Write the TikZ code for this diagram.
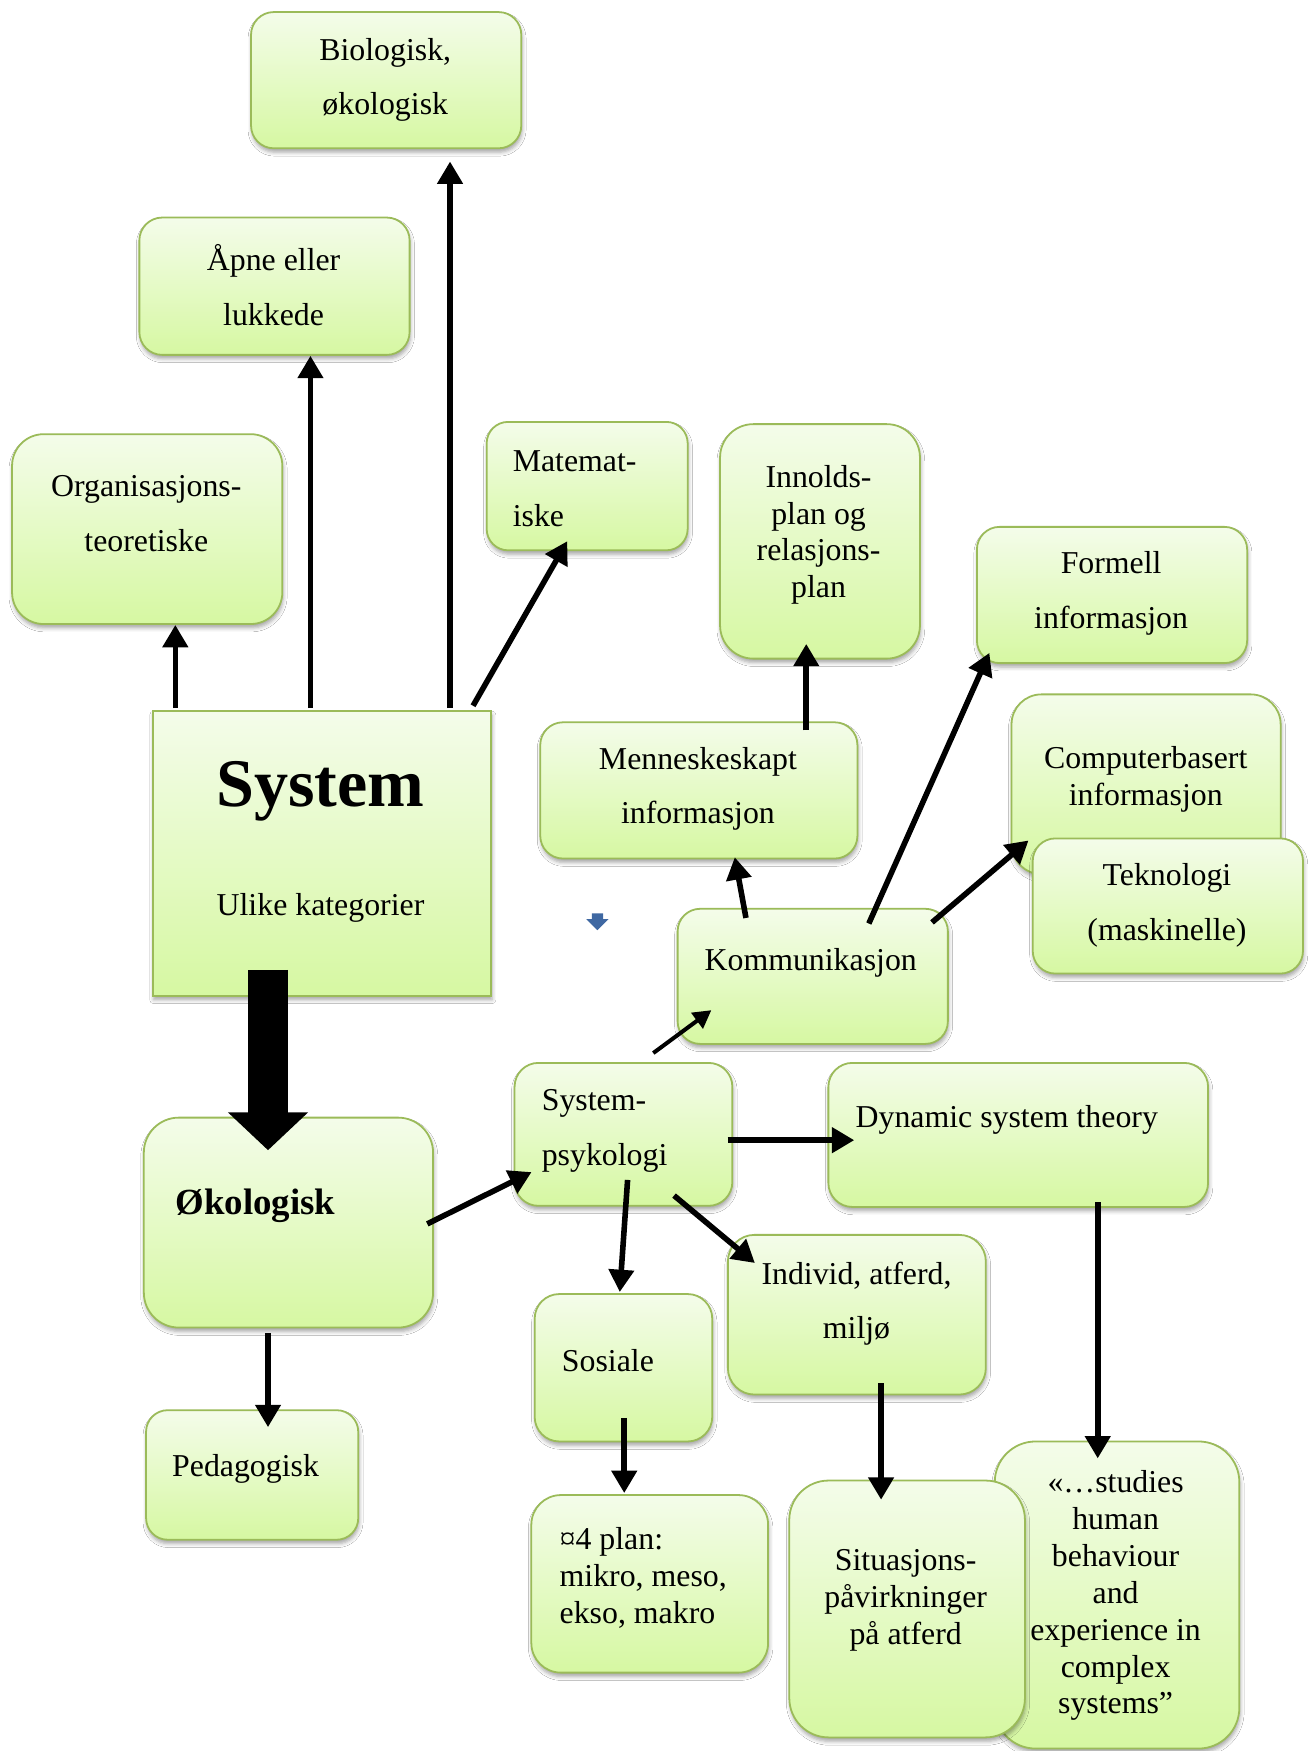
\documentclass[tikz,border=0pt]{standalone}
\usepackage{fontspec}
\setmainfont{Liberation Serif}
\usetikzlibrary{arrows.meta,shadows.blur}

\definecolor{boxtop}{RGB}{244,252,234}
\definecolor{boxbot}{RGB}{214,248,162}
\definecolor{boxline}{RGB}{155,187,89}
\definecolor{pinblue}{RGB}{63,104,162}

\tikzset{
  box/.style={draw=boxline, line width=1.6pt, top color=boxtop, bottom color=boxbot,
    inner sep=0pt,
    blur shadow={shadow xshift=0.8pt, shadow yshift=-3.5pt, shadow blur radius=3.5pt, shadow opacity=35}},
  txt/.style={inner sep=0pt, align=center, yshift=-3pt, font=\fontsize{28.5}{33}\selectfont},
  txtwide/.style={inner sep=0pt, align=center, yshift=-3pt, font=\fontsize{28.5}{49}\selectfont},
  arr/.style={line width=5pt, -{Triangle[length=20pt,width=22pt]}},
  thinarr/.style={line width=3.6pt, -{Triangle[length=16pt,width=17pt]}},
}

% rounded panel from its top-left and bottom-right corners
\newcommand\panel[5]{%
  \pgfmathsetmacro\pw{#4-#2}%
  \pgfmathsetmacro\ph{#5-#3}%
  \pgfmathsetmacro\pr{min(\pw,\ph)/6}%
  \node[box, rounded corners=\pr pt, minimum width=\pw pt, minimum height=\ph pt,
        anchor=north west] (#1) at (#2,#3) {};%
}

\begin{document}
\begin{tikzpicture}[x=1pt, y=-1pt]
\useasboundingbox (0,0) rectangle (1176,1568);
\fill[white] (0,0) rectangle (1176,1568);

% panels
\panel{bio}{224}{10}{466}{132}
\panel{apne}{124}{194}{366}{317}
\panel{org}{10}{388}{252}{558}
\panel{mat}{435}{377}{615}{492}
\panel{inn}{644}{379}{823}{589}
\panel{form}{874}{471}{1116}{593}
\node[box, minimum width=303pt, minimum height=255pt, anchor=north west] (sys) at (136,636) {};
\panel{men}{483}{646}{767}{768}
\panel{comp}{905}{621}{1146}{782}
\panel{tek}{924}{750}{1166}{871}
\panel{kom}{606}{813}{848}{934}
\panel{oko}{128}{1000}{387}{1188}
\panel{syp}{460}{951}{655}{1079}
\panel{dyn}{741}{951}{1081}{1080}
\panel{ind}{651}{1105}{882}{1248}
\panel{sos}{478}{1158}{637}{1290}
\panel{ped}{130}{1262}{320}{1378}
\panel{plan}{475}{1338}{687}{1497}
\panel{stud}{890}{1290}{1109}{1565}
\panel{sit}{706}{1325}{917}{1555}

% texts
\node[txtwide] (bioT) at (345,68.5) {Biologisk,\\økologisk};
\node[txtwide] (apneT) at (245,252.5) {Åpne eller\\lukkede};
\node[txtwide] (orgT) at (131,457) {Organisasjons-\\teoretiske};
\node[txtwide, align=left, anchor=west] (matT) at (459,434.5) {Matemat-\\iske};
\node[txt] (innT) at (733,476) {Innolds-\\plan og\\relasjons-\\plan};
\node[txtwide] (formT) at (995,528.5) {Formell\\informasjon};
\node[inner sep=0pt, font=\fontsize{61}{70}\selectfont\bfseries] (sysT) at (287,709) {System};
\node[txt] (sysU) at (287,810) {Ulike kategorier};
\node[txtwide] (menT) at (625,703.5) {Menneskeskapt\\informasjon};
\node[txt] (compT) at (1026,695) {Computerbasert\\informasjon};
\node[txtwide] (tekT) at (1045,807.5) {Teknologi\\(maskinelle)};
\node[txt] (komT) at (726,859) {Kommunikasjon};
\node[inner sep=0pt, anchor=west, font=\fontsize{33}{38}\selectfont\bfseries] (okoT) at (157,1080) {Økologisk};
\node[txtwide, align=left, anchor=west] (sypT) at (485,1009.5) {System-\\psykologi};
\node[txt, anchor=west] (dynT) at (766,1000) {Dynamic system theory};
\node[txtwide] (indT) at (767,1164.5) {Individ, atferd,\\miljø};
\node[txt, anchor=west] (sosT) at (503,1215) {Sosiale};
\node[txt, anchor=west] (pedT) at (154,1312) {Pedagogisk};
\node[txt, align=left, anchor=west] (planT) at (501,1410) {¤4 plan:\\mikro, meso,\\ekso, makro};
\node[txt] (sitT) at (811,1430) {Situasjons-\\påvirkninger\\på atferd};
\node[txt] (studT) at (999,1426) {«…studies\\human\\behaviour\\and\\experience in\\complex\\systems”};

% small anchor marker
\fill[pinblue] (530,818) -- (540,818) -- (540,823) -- (545,823) -- (535,833) -- (525,823) -- (530,823) -- cycle;

% connectors
\draw[arr] ([shift={(21,-2)}]sys.north west) -- ([shift={(147,0)}]org.south west);
\draw[arr] ([shift={(142,-2)}]sys.north west) -- ([shift={(154,0)}]apne.south west);
\draw[arr] ([shift={(267,-2)}]sys.north west) -- ([shift={(179,11)}]bio.south west);
\draw[arr] ([shift={(-17,-4)}]sys.north east) -- ([shift={(73,-9)}]mat.south west);
\draw[line width=35pt, -{Triangle[length=34pt,width=70pt]}]
  ([shift={(104,-24)}]sys.south west) -- ([shift={(112,30)}]oko.north west);
\draw[arr] ([shift={(112,4)}]oko.south west) -- ([shift={(110,16)}]ped.north west);
\draw[arr] ([shift={(-6,96)}]oko.north east) -- ([shift={(16,-31)}]syp.south west);
\draw[thinarr] ([shift={(125,-8)}]syp.north west) -- ([shift={(31,-31)}]kom.south west);
\draw[arr] ([shift={(-5,70)}]syp.north east) -- ([shift={(24,70)}]dyn.north west);
\draw[arr] ([shift={(102,-24)}]syp.south west) -- ([shift={(77,-1)}]sos.north west);
\draw[arr] ([shift={(-53,-10)}]syp.south east) -- ([shift={(25,26)}]ind.north west);
\draw[arr] ([shift={(81,-22)}]sos.south west) -- ([shift={(84,-1)}]plan.north west);
\draw[arr] ([shift={(138,-11)}]ind.south west) -- ([shift={(83,18)}]sit.north west);
\draw[arr] ([shift={(242,-5)}]dyn.south west) -- ([shift={(93,16)}]stud.north west);
\draw[arr] ([shift={(62,9)}]kom.north west) -- ([shift={(175,-2)}]men.south west);
\draw[arr] ([shift={(239,8)}]men.north west) -- ([shift={(78,-14)}]inn.south west);
\draw[arr] ([shift={(172,14)}]kom.north west) -- ([shift={(12,-10)}]form.south west);
\draw[arr] ([shift={(-15,13)}]kom.north east) -- ([shift={(16,-31)}]comp.south west);
\end{tikzpicture}
\end{document}
